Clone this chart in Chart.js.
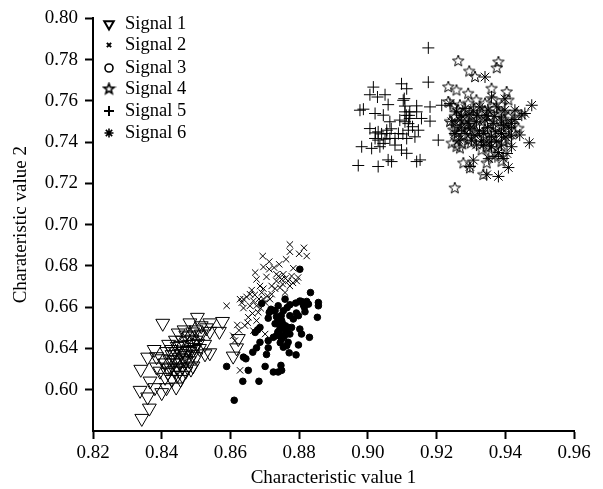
<!DOCTYPE html>
<html>
<head>
<meta charset="utf-8">
<title>Signal scatter</title>
<script src="https://cdn.jsdelivr.net/npm/chart.js@4/dist/chart.umd.js"></script>
<style>
    body { margin: 0; background: #fff; }
    canvas { display: block; }
</style>
</head>
<body>
<canvas id="grafica" width="603" height="489"></canvas>
<script>
const xTickLabels = ['0.82', '0.84', '0.86', '0.88', '0.90', '0.92', '0.94', '0.96'];
// the original axis jumps from 0.64 to 0.60 and leaves the last tick blank
const yTickLabels = ['', '0.60', '0.64', '0.66', '0.68', '0.70', '0.72', '0.74', '0.76', '0.78', '0.80'];
const legendLabels = ['Signal 1', 'Signal 2', 'Signal 3', 'Signal 4', 'Signal 5', 'Signal 6'];

const signal1 = [
    [.8403,.6522],[.8504,.6551],[.8342,.6061],[.8364,.6111],[.8359,.6165],[.8337,.6197],[.8442,.6213],[.8339,.6299],
    [.8359,.6358],[.8378,.6395],[.8577,.6531],[.8540,.6524],[.8482,.6524],[.8448,.6475],[.8540,.6483],[.8568,.6483],
    [.8540,.6379],[.8526,.6374],[.8491,.6315],[.8452,.6290],[.8418,.6283],[.8380,.6210],[.8400,.6186],[.8414,.6210],
    [.8366,.6242],[.8608,.6363],[.8618,.6403],[.8623,.6448],[.8395,.6290],[.8410,.6330],[.8425,.6310],[.8440,.6345],
    [.8430,.6370],[.8415,.6385],[.8400,.6350],[.8385,.6310],[.8445,.6270],[.8460,.6310],[.8470,.6340],[.8455,.6375],
    [.8475,.6390],[.8445,.6410],[.8460,.6440],[.8490,.6420],[.8480,.6460],[.8500,.6440],[.8465,.6490],[.8500,.6490],
    [.8515,.6470],[.8490,.6370],[.8510,.6400],[.8525,.6420],[.8430,.6250],[.8410,.6260],[.8455,.6250],[.8480,.6340],
    [.8500,.6360],[.8420,.6420],[.8385,.6360],[.8440,.6440],[.8465,.6350],[.8445,.6305],[.8475,.6310],[.8490,.6480],
    [.8515,.6510],[.8435,.6330],[.8450,.6355],[.8462,.6392],[.8478,.6420],[.8488,.6445],[.8496,.6405],[.8482,.6385],
    [.8468,.6365],[.8452,.6330],[.8438,.6295],[.8424,.6345],[.8440,.6385],[.8455,.6415],[.8470,.6465],[.8492,.6395],
    [.8505,.6425],[.8428,.6395],[.8418,.6305],[.8470,.6290],[.8460,.6270],[.8485,.6300],[.8508,.6465],[.8530,.6500]
];
const signal2 = [
    [.8773,.6904],[.8814,.6888],[.8773,.6869],[.8800,.6859],[.8822,.6848],[.8694,.6848],[.8713,.6821],[.8762,.6832],
    [.8742,.6808],[.8727,.6792],[.8696,.6795],[.8672,.6768],[.8713,.6784],[.8676,.6735],[.8783,.6789],[.8754,.6760],
    [.8705,.6747],[.8734,.6727],[.8768,.6727],[.8793,.6727],[.8749,.6735],[.8720,.6703],[.8662,.6683],[.8638,.6639],
    [.8628,.6639],[.8657,.6663],[.8667,.6631],[.8691,.6671],[.8638,.6596],[.8676,.6607],[.8589,.6607],[.8720,.6663],
    [.8759,.6671],[.8744,.6695],[.8620,.6514],[.8652,.6551],[.8676,.6535],[.8701,.6470],[.8667,.6486],[.8608,.6462],
    [.8613,.6438],[.8628,.6294],[.8642,.6511],[.8681,.6575],[.8701,.6623],[.8686,.6703],[.8773,.6703],[.8734,.6760],
    [.8657,.6607],[.8715,.6639],[.8778,.6751],[.8797,.6744],[.8647,.6650],[.8633,.6622],[.8671,.6660],[.8683,.6640],
    [.8696,.6690],[.8708,.6655],[.8730,.6690],[.8752,.6712],[.8782,.6718],[.8760,.6740],[.8740,.6750],[.8688,.6595],
    [.8664,.6570],[.8650,.6525],[.8625,.6488],[.8696,.6640]
];
const signal3 = [
    [.8833,.6671],[.8802,.6784],[.8853,.6551],[.8856,.6623],[.8856,.6607],[.8830,.6454],[.8798,.6417],[.8791,.6369],
    [.8771,.6379],[.8638,.6358],[.8645,.6350],[.8665,.6382],[.8676,.6403],[.8686,.6430],[.8710,.6403],[.8705,.6371],
    [.8589,.6313],[.8652,.6294],[.8701,.6313],[.8747,.6318],[.8725,.6286],[.8739,.6286],[.8749,.6294],[.8636,.6241],
    [.8683,.6241],[.8611,.6149],[.8672,.6478],[.8686,.6502],[.8679,.6490],[.8713,.6575],[.8710,.6547],[.8730,.6583],
    [.8739,.6607],[.8691,.6618],[.8759,.6639],[.8773,.6612],[.8773,.6559],[.8783,.6543],[.8798,.6559],[.8817,.6578],
    [.8807,.6628],[.8822,.6628],[.8827,.6615],[.8812,.6612],[.8802,.6494],[.8807,.6470],[.8710,.6438],[.8725,.6454],
    [.8739,.6535],[.8749,.6535],[.8744,.6494],[.8759,.6494],[.8768,.6502],[.8778,.6502],[.8744,.6470],[.8764,.6470],
    [.8749,.6446],[.8768,.6430],[.8754,.6406],[.8734,.6462],[.8725,.6583],[.8754,.6583],[.8734,.6554],[.8744,.6511],
    [.8773,.6470],[.8764,.6414],[.8752,.6520],[.8762,.6485],[.8738,.6480],[.8756,.6458],[.8745,.6428],[.8760,.6510],
    [.8748,.6560],[.8718,.6590],[.8765,.6598],[.8790,.6620],[.8802,.6630],[.8815,.6600],[.8792,.6572],[.8730,.6520]
];
const signal4 = [
    [.9263,.7793],[.9380,.7788],[.9375,.7759],[.9295,.7743],[.9312,.7716],[.9234,.7667],[.9258,.7651],[.9292,.7635],
    [.9360,.7659],[.9404,.7643],[.9409,.7603],[.9234,.7595],[.9253,.7177],[.9244,.7394],[.9258,.7378],[.9278,.7298],
    [.9297,.7274],[.9346,.7298],[.9268,.7370],[.9389,.7306],[.9336,.7242],[.9249,.7571],[.9268,.7579],[.9292,.7587],
    [.9316,.7603],[.9341,.7587],[.9365,.7603],[.9389,.7579],[.9253,.7523],[.9278,.7539],[.9302,.7523],[.9331,.7539],
    [.9355,.7523],[.9380,.7539],[.9409,.7523],[.9433,.7539],[.9249,.7458],[.9273,.7474],[.9297,.7458],[.9326,.7474],
    [.9350,.7458],[.9375,.7474],[.9404,.7458],[.9438,.7466],[.9258,.7426],[.9292,.7410],[.9321,.7418],[.9346,.7402],
    [.9380,.7418],[.9409,.7410],[.9331,.7361],[.9355,.7346],[.9384,.7354],[.9239,.7499],[.9262,.7555],[.9285,.7515],
    [.9262,.7495],[.9288,.7480],[.9310,.7560],[.9320,.7510],[.9340,.7550],[.9368,.7560],[.9392,.7535],[.9262,.7445],
    [.9280,.7430],[.9310,.7450],[.9338,.7425],[.9362,.7445],[.9390,.7475],[.9420,.7490],[.9425,.7445],[.9300,.7395],
    [.9275,.7390],[.9345,.7375],[.9368,.7390],[.9395,.7400],[.9255,.7475],[.9300,.7490],[.9350,.7490],[.9395,.7510]
];
const signal5 = [
    [.9176,.7857],[.9176,.7691],[.9016,.7667],[.9098,.7683],[.9006,.7630],[.9028,.7619],[.9050,.7630],[.9059,.7582],
    [.8987,.7560],[.8977,.7555],[.9106,.7611],[.9113,.7659],[.9142,.7576],[.9181,.7571],[.9215,.7579],[.9181,.7502],
    [.9205,.7410],[.9021,.7539],[.9045,.7531],[.9064,.7499],[.9108,.7547],[.9122,.7547],[.9142,.7547],[.9108,.7499],
    [.9156,.7515],[.9006,.7466],[.9030,.7450],[.9055,.7458],[.9089,.7442],[.9118,.7458],[.9147,.7458],[.9113,.7418],
    [.9030,.7410],[.8982,.7378],[.9011,.7370],[.9045,.7394],[.9055,.7442],[.9079,.7386],[.9098,.7362],[.9035,.7378],
    [.9113,.7346],[.9142,.7306],[.9152,.7314],[.9059,.7314],[.9069,.7306],[.8972,.7287],[.9030,.7282],[.9079,.7418],
    [.9137,.7426],[.9122,.7515],[.9093,.7507],[.9064,.7418],[.9021,.7418],[.9103,.7603],[.9112,.7530],[.9108,.7575],
    [.9118,.7490],[.9130,.7475],[.9040,.7440],[.9022,.7445],[.9068,.7465],[.9102,.7440],[.9050,.7415],[.9120,.7530]
];
const signal6 = [
    [.9477,.7579],[.9470,.7397],[.9341,.7716],[.9409,.7277],[.9380,.7234],[.9346,.7242],[.9297,.7282],[.9457,.7539],
    [.9442,.7435],[.9239,.7587],[.9258,.7547],[.9283,.7563],[.9307,.7555],[.9326,.7571],[.9350,.7555],[.9375,.7571],
    [.9399,.7555],[.9428,.7555],[.9448,.7531],[.9244,.7499],[.9268,.7507],[.9292,.7491],[.9316,.7499],[.9341,.7507],
    [.9365,.7491],[.9389,.7507],[.9418,.7491],[.9253,.7442],[.9283,.7442],[.9312,.7434],[.9336,.7442],[.9360,.7426],
    [.9389,.7442],[.9418,.7434],[.9316,.7386],[.9336,.7386],[.9360,.7378],[.9389,.7386],[.9418,.7378],[.9370,.7330],
    [.9394,.7321],[.9307,.7313],[.9360,.7619],[.9399,.7610],[.9272,.7530],[.9295,.7535],[.9318,.7530],[.9345,.7530],
    [.9368,.7525],[.9395,.7480],[.9410,.7470],[.9428,.7510],[.9272,.7470],[.9298,.7465],[.9325,.7455],[.9348,.7470],
    [.9372,.7450],[.9402,.7425],[.9265,.7410],[.9302,.7410],[.9330,.7405],[.9355,.7400],[.9375,.7405],[.9405,.7345],
    [.9380,.7350],[.9352,.7320]
];

const fuente = 'Liberation Serif, Times New Roman, serif';

// Chart.js has no five pointed star, so it gets drawn on a small canvas
function hacerEstrella(radio, grosor) {
    const c = document.createElement('canvas');
    const lado = Math.ceil(radio * 2 + grosor * 2);
    c.width = lado;
    c.height = lado;
    const g = c.getContext('2d');
    g.strokeStyle = '#000';
    g.lineWidth = grosor;
    g.beginPath();
    for (let i = 0; i < 10; i++) {
        const r = i % 2 ? radio * 0.42 : radio;
        const a = -Math.PI / 2 + i * Math.PI / 5;
        g.lineTo(lado / 2 + r * Math.cos(a), lado / 2 + r * Math.sin(a));
    }
    g.closePath();
    g.stroke();
    return c;
}

const marcasLeyenda = [
    { pointStyle: 'triangle', rotation: 180, radius: 5.5, borderWidth: 2 },
    { pointStyle: 'crossRot', rotation: 0, radius: 3, borderWidth: 2 },
    { pointStyle: 'circle', rotation: 0, radius: 4, borderWidth: 1.6 },
    { pointStyle: hacerEstrella(5.5, 1.6), rotation: 0, radius: 5, borderWidth: 1 },
    { pointStyle: 'cross', rotation: 0, radius: 5, borderWidth: 2 },
    { pointStyle: 'star', rotation: 0, radius: 4.5, borderWidth: 1.6 }
];

// legend sits inside the plot and its marks differ from the plotted ones
const leyendaInterna = {
    id: 'leyendaInterna',
    afterDraw(chart) {
        const ctx = chart.ctx;
        const filas = [24, 45, 68, 89, 111, 133];
        ctx.save();
        ctx.font = '18.5px ' + fuente;
        ctx.textBaseline = 'middle';
        ctx.fillStyle = '#000';
        ctx.strokeStyle = '#000';
        legendLabels.forEach((texto, i) => {
            ctx.lineWidth = marcasLeyenda[i].borderWidth;
            ctx.fillStyle = '#fff';
            Chart.helpers.drawPoint(ctx, marcasLeyenda[i], 109, filas[i]);
            ctx.fillStyle = '#000';
            ctx.fillText(texto, 125, filas[i]);
        });
        ctx.restore();
    }
};

function serie(label, data, pointStyle, radius, extra) {
    return Object.assign({
        label: label,
        data: data,
        pointStyle: pointStyle,
        pointRadius: radius,
        pointHoverRadius: radius,
        pointBorderWidth: 1,
        pointBorderColor: '#000',
        pointBackgroundColor: 'rgba(0,0,0,0)',
        showLine: false
    }, extra || {});
}

new Chart(document.getElementById('grafica').getContext('2d'), {
    type: 'scatter',
    data: {
        datasets: [
            serie(legendLabels[0], signal1, 'triangle', 8, { pointRotation: 180 }),
            serie(legendLabels[1], signal2, 'crossRot', 4.5),
            serie(legendLabels[2], signal3, 'circle', 3.3, { pointBackgroundColor: '#000' }),
            serie(legendLabels[3], signal4, hacerEstrella(6, 1), 6),
            serie(legendLabels[4], signal5, 'cross', 6),
            serie(legendLabels[5], signal6, 'star', 6)
        ]
    },
    options: {
        responsive: false,
        animation: false,
        layout: { padding: { top: 16, right: 29, left: 0, bottom: 0 } },
        plugins: { legend: { display: false }, tooltip: { enabled: false } },
        scales: {
            x: {
                type: 'linear',
                min: 0.82,
                max: 0.96,
                afterFit: (scale) => { scale.height = 58; },
                afterBuildTicks: (scale) => {
                    scale.ticks = xTickLabels.map((t) => ({ value: parseFloat(t) }));
                },
                border: { color: '#000', width: 2 },
                grid: { drawOnChartArea: false, color: '#000', tickLength: 8, tickWidth: 2 },
                ticks: {
                    color: '#000',
                    padding: 3,
                    maxRotation: 0,
                    autoSkip: false,
                    font: { family: fuente, size: 19 },
                    callback: (v, i) => xTickLabels[i]
                },
                title: {
                    display: true,
                    text: 'Characteristic value 1',
                    color: '#000',
                    font: { family: fuente, size: 19 },
                    padding: { top: 3, bottom: 0 }
                }
            },
            y: {
                type: 'linear',
                min: 0.60,
                max: 0.80,
                afterFit: (scale) => { scale.width = 93; },
                afterBuildTicks: (scale) => {
                    scale.ticks = yTickLabels.map((t, i) => ({ value: 0.60 + i * 0.02 }));
                },
                border: { color: '#000', width: 2 },
                grid: {
                    drawOnChartArea: false,
                    tickLength: 8,
                    tickWidth: 2,
                    tickColor: (c) => (c.index === 0 ? 'rgba(0,0,0,0)' : '#000')
                },
                ticks: {
                    color: '#000',
                    padding: 7,
                    autoSkip: false,
                    font: { family: fuente, size: 19 },
                    callback: (v, i) => yTickLabels[i]
                },
                title: {
                    display: true,
                    text: 'Charateristic value 2',
                    color: '#000',
                    font: { family: fuente, size: 19 },
                    padding: { top: 10, bottom: 0 }
                }
            }
        }
    },
    plugins: [leyendaInterna]
});
</script>
</body>
</html>
